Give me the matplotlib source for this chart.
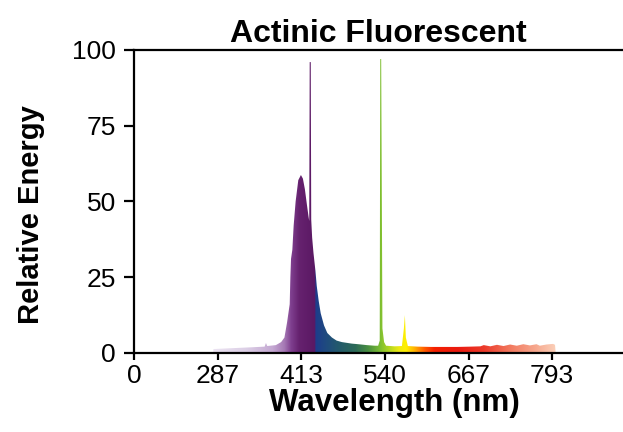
#!/usr/bin/env python3
import numpy as np
import matplotlib

matplotlib.use("Agg")
import matplotlib.pyplot as plt
from matplotlib.colors import LinearSegmentedColormap


# Spectrum: wavelength (nm) and relative energy
WAVELENGTH = [
    280, 280.5, 300, 320, 340, 358, 360, 362, 375, 383, 388, 392, 396, 397,
    398, 400, 402, 405, 409, 413, 416, 419, 422, 424.5, 425.6, 426.3, 427.9,
    428.6, 430, 432, 435, 437, 440, 443, 448, 453, 460, 467, 475, 490, 500,
    513, 525, 530, 532.4, 533.2, 534.6, 536.5, 539, 542, 555, 566, 569,
    570.5, 572, 575, 590, 610, 630, 650, 670, 685, 690, 700, 710, 720, 730,
    740, 750, 760, 770, 775, 785, 795, 798, 799,
]
ENERGY = [
    0, 1.2, 1.4, 1.6, 1.8, 2.0, 3.2, 2.2, 2.5, 3.5, 5, 10, 16, 25,
    31, 34, 42, 50, 57, 58.7, 57.5, 54, 49, 45, 43.5, 96, 96,
    44, 38, 33, 27, 22, 17, 13, 9, 6.5, 5, 4, 3.5, 3, 2.8,
    2.5, 2.3, 2.3, 4, 97, 97, 8, 3.5, 2.3, 2.1, 2.2, 8,
    12.4, 5, 2.2, 2.0, 1.9, 1.9, 1.9, 2.0, 2.1, 2.5, 2.1, 2.6, 2.2, 2.7,
    2.3, 2.8, 2.4, 2.8, 2.3, 2.7, 2.9, 2.6, 0,
]

# x tick positions and the labels printed under them
X_TICKS = [160, 287, 413, 540, 667, 793]
X_TICK_LABELS = ["0", "287", "413", "540", "667", "793"]
Y_TICKS = [0, 25, 50, 75, 100]

# colour of the fill along the wavelength axis
BAND_NM = [280, 330, 370, 388, 398, 410, 434, 435, 450, 470, 495, 515, 533,
           548, 562, 572, 585, 600, 615, 650, 690, 730, 770, 800]
BAND_COLORS = ["#ece4f2", "#dccfe6", "#c4a8d2", "#a578b4", "#7f3f8f",
               "#66226f", "#5a1863", "#1d3c8c", "#1f4a80", "#235a6c",
               "#2c6a58", "#4a9040", "#7dbf32", "#b8d820", "#f0ea10",
               "#fff000", "#ffb000", "#ff5a00", "#f42000", "#ea1a10",
               "#ec3a2a", "#f27a60", "#f7aa90", "#fbd2bc"]


def main():
    plt.rcParams["font.family"] = ["Liberation Sans", "DejaVu Sans"]

    fig = plt.figure(figsize=(6.23, 4.32), dpi=100)
    ax = fig.add_axes([0.215, 0.1836, 0.785, 0.7007])

    lo, hi = BAND_NM[0], BAND_NM[-1]
    stops = [((nm - lo) / (hi - lo), c) for nm, c in zip(BAND_NM, BAND_COLORS)]
    cmap = LinearSegmentedColormap.from_list("spectrum", stops, N=1024)

    poly = ax.fill_between(WAVELENGTH, ENERGY, 0, facecolor="none",
                           edgecolor="none")
    grad = np.linspace(0, 1, 2000).reshape(1, -1)
    im = ax.imshow(grad, cmap=cmap, aspect="auto", extent=[lo, hi, 0, 100],
                   origin="lower", interpolation="bilinear")
    im.set_clip_path(poly.get_paths()[0], transform=ax.transData)

    ax.set_xlim(160, 901)
    ax.set_ylim(0, 100)

    ax.set_xticks(X_TICKS)
    ax.set_xticklabels(X_TICK_LABELS)
    ax.set_yticks(Y_TICKS)

    for side in ["left", "bottom", "top"]:
        ax.spines[side].set_linewidth(1.6)
    ax.spines["right"].set_visible(False)

    ax.tick_params(axis="x", length=5, width=1.6, labelsize=19, pad=3.5)
    ax.tick_params(axis="y", length=7, width=1.6, labelsize=19, pad=6)

    ax.set_title("Actinic Fluorescent", fontsize=23, fontweight="bold", pad=6)
    ax.set_xlabel("Wavelength (nm)", fontsize=22.5, fontweight="bold")
    ax.set_ylabel("Relative Energy", fontsize=21, fontweight="bold")
    ax.xaxis.set_label_coords(0.532, -0.118)
    ax.yaxis.set_label_coords(-0.182, 0.455)

    fig.savefig("out.png", dpi=100)


if __name__ == "__main__":
    main()
